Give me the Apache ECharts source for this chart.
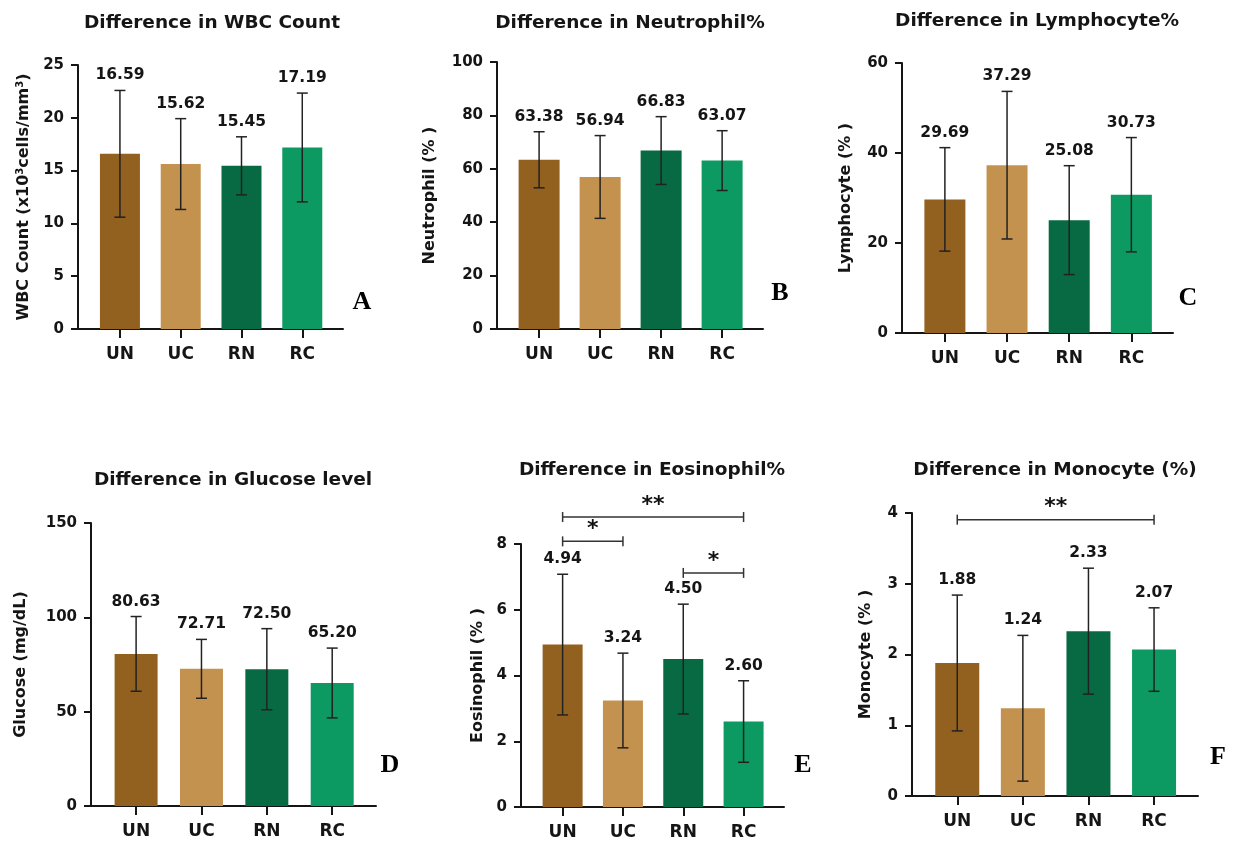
<!DOCTYPE html>
<html>
<head>
<meta charset="utf-8">
<title>Haematology and glucose by group</title>
<script src="https://cdn.jsdelivr.net/npm/echarts@6/dist/echarts.min.js"></script>
<style>
  html, body { margin: 0; padding: 0; background: #ffffff; }
  #chart { width: 1238px; height: 843px; }
</style>
</head>
<body>
<div id="chart"></div>
<script>
// ---- data ----
const categories = ['UN', 'UC', 'RN', 'RC'];

const wbcMean = [16.59, 15.62, 15.45, 17.19];
const wbcSd   = [6.0, 4.3, 2.75, 5.15];

const neutrophilMean = [63.38, 56.94, 66.83, 63.07];
const neutrophilSd   = [10.5, 15.5, 12.7, 11.2];

const lymphocyteMean = [29.69, 37.29, 25.08, 30.73];
const lymphocyteSd   = [11.5, 16.4, 12.1, 12.7];

const glucoseMean = [80.63, 72.71, 72.50, 65.20];
const glucoseSd   = [19.8, 15.6, 21.5, 18.5];

const eosinophilMean = [4.94, 3.24, 4.50, 2.60];
const eosinophilSd   = [2.14, 1.44, 1.67, 1.24];

const monocyteMean = [1.88, 1.24, 2.33, 2.07];
const monocyteSd   = [0.96, 1.03, 0.89, 0.59];

// significance brackets: [from category, to category, height in axis units, marker]
const eosinophilSig = [[0, 3, 8.82, '**'], [0, 1, 8.08, '*'], [2, 3, 7.12, '*']];
const monocyteSig   = [[0, 3, 3.906, '**']];

// y-axis scales
const yMax      = [25, 100, 60, 150, 8, 4];
const yInterval = [5, 20, 20, 50, 2, 1];

// ---- styling & layout ----
const barColors = ['#93611f', '#c4924f', '#076a43', '#0c9a62'];
const SANS = '"DejaVu Sans", Verdana, sans-serif';
const SERIF = '"Liberation Serif", "Times New Roman", serif';
const INK = '#151515';
const X_MIN = -0.69, X_MAX = 3.67;

const panels = [
  { title: 'Difference in WBC Count', letter: 'A', mean: wbcMean, sd: wbcSd,
    name: 'WBC Count (x10{sup|3}cells/mm{sup|3})', nameGap: 54,
    grid: { left: 78, top: 65, width: 265, height: 264 }, titlePos: [212, 23], letterPos: [362, 302] },
  { title: 'Difference in Neutrophil%', letter: 'B', mean: neutrophilMean, sd: neutrophilSd,
    name: 'Neutrophil (% )', nameGap: 67,
    grid: { left: 497, top: 62, width: 266, height: 267 }, titlePos: [630, 23], letterPos: [780, 293] },
  { title: 'Difference in Lymphocyte%', letter: 'C', mean: lymphocyteMean, sd: lymphocyteSd,
    name: 'Lymphocyte (% )', nameGap: 56,
    grid: { left: 902, top: 63, width: 271, height: 270 }, titlePos: [1037, 21], letterPos: [1188, 298] },
  { title: 'Difference in Glucose level', letter: 'D', mean: glucoseMean, sd: glucoseSd,
    name: 'Glucose (mg/dL)', nameGap: 70,
    grid: { left: 91, top: 523, width: 285, height: 283 }, titlePos: [233, 480], letterPos: [390, 765] },
  { title: 'Difference in Eosinophil%', letter: 'E', mean: eosinophilMean, sd: eosinophilSd,
    name: 'Eosinophil (% )', nameGap: 43, sig: eosinophilSig,
    grid: { left: 521, top: 544, width: 263, height: 263 }, titlePos: [652, 470], letterPos: [803, 765] },
  { title: 'Difference in Monocyte (%)', letter: 'F', mean: monocyteMean, sd: monocyteSd,
    name: 'Monocyte (% )', nameGap: 46, sig: monocyteSig,
    grid: { left: 912, top: 513, width: 286, height: 283 }, titlePos: [1055, 470], letterPos: [1218, 757] }
];

const grids = [], xAxes = [], yAxes = [], series = [], graphics = [];

panels.forEach((p, i) => {
  grids.push(Object.assign({ containLabel: false }, p.grid));

  xAxes.push({
    type: 'value', gridIndex: i, min: X_MIN, max: X_MAX,
    splitLine: { show: false },
    axisLine: { show: true, onZero: false, lineStyle: { color: INK, width: 2 } },
    axisTick: { show: true, length: 9, customValues: [0, 1, 2, 3], lineStyle: { color: INK, width: 2 } },
    axisLabel: {
      customValues: [0, 1, 2, 3], margin: 17,
      formatter: v => categories[Math.round(v)],
      fontFamily: SANS, fontWeight: 'bold', fontSize: 17, color: INK
    }
  });

  yAxes.push({
    type: 'value', gridIndex: i, min: 0, max: yMax[i], interval: yInterval[i],
    splitLine: { show: false },
    axisLine: { show: true, onZero: false, lineStyle: { color: INK, width: 2 } },
    axisTick: { show: true, length: 7, lineStyle: { color: INK, width: 2 } },
    axisLabel: { margin: 14, fontFamily: SANS, fontWeight: 'bold', fontSize: 15, color: INK },
    name: p.name, nameLocation: 'middle', nameGap: p.nameGap, nameRotate: 90,
    nameTextStyle: {
      fontFamily: SANS, fontWeight: 'bold', fontSize: 16, color: INK, verticalAlign: 'middle',
      rich: { sup: { fontFamily: SANS, fontWeight: 'bold', fontSize: 10, color: INK, verticalAlign: 'top', lineHeight: 17 } }
    }
  });

  const bandPx = p.grid.width / (X_MAX - X_MIN);

  series.push({
    type: 'bar', xAxisIndex: i, yAxisIndex: i,
    barWidth: Math.round(bandPx * 0.665),
    data: p.mean.map((v, k) => ({ value: [k, v], itemStyle: { color: barColors[k] } })),
    silent: true, animation: false
  });

  // error bars (mean ± SD) with the mean printed above each one
  series.push({
    type: 'custom', xAxisIndex: i, yAxisIndex: i, clip: false, z: 5, animation: false,
    data: p.mean.map((v, k) => [k, v, p.sd[k]]),
    renderItem: (params, api) => {
      const x = api.value(0), m = api.value(1), s = api.value(2);
      const top = api.coord([x, m + s]);
      const bot = api.coord([x, m - s]);
      const cap = 5.5;
      const st = { stroke: '#222', lineWidth: 1.5 };
      return {
        type: 'group',
        children: [
          { type: 'line', shape: { x1: top[0], y1: top[1], x2: bot[0], y2: bot[1] }, style: st },
          { type: 'line', shape: { x1: top[0] - cap, y1: top[1], x2: top[0] + cap, y2: top[1] }, style: st },
          { type: 'line', shape: { x1: bot[0] - cap, y1: bot[1], x2: bot[0] + cap, y2: bot[1] }, style: st },
          { type: 'text', x: top[0], y: top[1] - 15,
            style: { text: m.toFixed(2), align: 'center', verticalAlign: 'middle',
                     font: 'bold 15.5px ' + SANS, fill: INK } }
        ]
      };
    }
  });

  if (p.sig) {
    series.push({
      type: 'custom', xAxisIndex: i, yAxisIndex: i, clip: false, z: 5, animation: false,
      data: p.sig.map(b => [b[0], b[2], b[1]]),
      renderItem: (params, api) => {
        const a = api.coord([api.value(0), api.value(1)]);
        const b = api.coord([api.value(2), api.value(1)]);
        const mark = p.sig[params.dataIndex][3];
        const st = { stroke: '#333', lineWidth: 1.5 };
        return {
          type: 'group',
          children: [
            { type: 'line', shape: { x1: a[0], y1: a[1], x2: b[0], y2: b[1] }, style: st },
            { type: 'line', shape: { x1: a[0], y1: a[1] - 5, x2: a[0], y2: a[1] + 5 }, style: st },
            { type: 'line', shape: { x1: b[0], y1: b[1] - 5, x2: b[0], y2: b[1] + 5 }, style: st },
            { type: 'text', x: (a[0] + b[0]) / 2, y: a[1] - 12,
              style: { text: mark, align: 'center', verticalAlign: 'middle',
                       font: 'bold 22px ' + SANS, fill: '#111' } }
          ]
        };
      }
    });
  }

  graphics.push({
    type: 'text', x: p.titlePos[0], y: p.titlePos[1], silent: true,
    style: { text: p.title, align: 'center', verticalAlign: 'middle', font: 'bold 18.5px ' + SANS, fill: INK }
  });
  graphics.push({
    type: 'text', x: p.letterPos[0], y: p.letterPos[1], silent: true,
    style: { text: p.letter, align: 'center', verticalAlign: 'middle', font: 'bold 26px ' + SERIF, fill: '#000' }
  });
});

const chart = echarts.init(document.getElementById('chart'), null, { renderer: 'canvas' });
chart.setOption({
  backgroundColor: '#ffffff',
  animation: false,
  grid: grids,
  xAxis: xAxes,
  yAxis: yAxes,
  series: series,
  graphic: graphics
});
</script>
</body>
</html>
